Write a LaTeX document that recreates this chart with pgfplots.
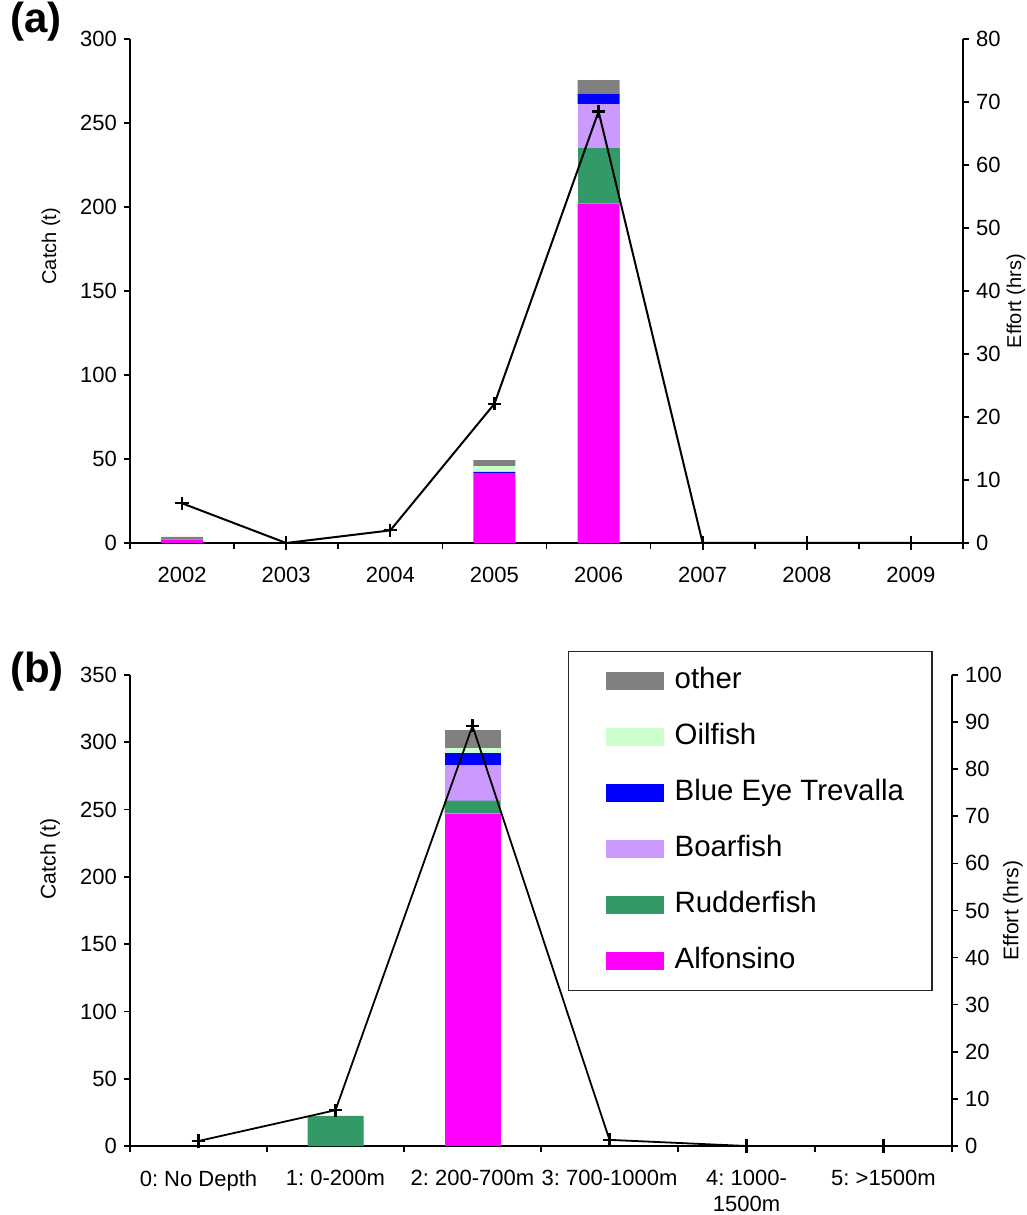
\documentclass[border=0pt]{standalone}
\usepackage{fontspec}
\setmainfont{Liberation Sans}
\usepackage{pgfplots}
\pgfplotsset{compat=1.18}
\frenchspacing
\definecolor{alf}{HTML}{FF00FF}
\definecolor{rud}{HTML}{339966}
\definecolor{boar}{HTML}{CC99FF}
\definecolor{bet}{HTML}{0000FF}
\definecolor{oil}{HTML}{CCFFCC}
\definecolor{oth}{HTML}{808080}
\pgfplotsset{
  base/.style={scale only axis,
    /pgf/number format/assume math mode=true,
    tick label style={font=\fontsize{11}{13}\selectfont\frenchspacing, black},
    axis line style={line width=0.8pt, black},
    every tick/.style={line width=0.8pt, black},
    tick align=outside, major tick length=3pt,
    x tick label as interval},
  barleg/.style={legend image code/.code={\path (0pt,0pt); \fill[##1] (4.5pt,-4.5pt) rectangle (33.5pt,4.5pt);}},
  effline/.style={black, line width=1pt, mark=+, mark size=3.3pt, mark options={line width=1.1pt}},
}
\begin{document}
\begin{tikzpicture}
\useasboundingbox (0,0) rectangle (513.5pt,607.5pt);
% ---------------- panel (a) ----------------
\begin{axis}[base, at={(65pt,336pt)}, anchor=south west, width=416.5pt, height=252pt,
  label style={font=\fontsize{10}{12}\selectfont},
  axis y line*=left, axis x line*=bottom,
  ymin=0, ymax=300, ytick={0,50,...,300},
  xmin=-0.5, xmax=7.5, xtick={-0.5,0.5,...,7.5},
  xticklabels={2002,2003,2004,2005,2006,2007,2008,2009},
  xticklabel style={yshift=-5.5pt},
  ybar stacked, bar width=21pt,
  ylabel={Catch (t)}, ylabel style={at={(axis description cs:-0.095,0.589)}, anchor=center}]
\addplot[draw=none, fill=alf] coordinates {(0,2.0) (1,0) (2,0) (3,41.3) (4,202.2) (5,0) (6,0) (7,0)};
\addplot[draw=none, fill=rud] coordinates {(0,0) (1,0) (2,0) (3,0) (4,33.0) (5,0) (6,0) (7,0)};
\addplot[draw=none, fill=boar] coordinates {(0,0) (1,0) (2,0) (3,0) (4,26.0) (5,0) (6,0) (7,0)};
\addplot[draw=none, fill=bet] coordinates {(0,0) (1,0) (2,0) (3,1.0) (4,6.0) (5,0) (6,0) (7,0)};
\addplot[draw=none, fill=oil] coordinates {(0,0) (1,0) (2,0) (3,3.5) (4,0) (5,0) (6,0) (7,0)};
\addplot[draw=none, fill=oth] coordinates {(0,1.6) (1,0) (2,0) (3,3.6) (4,8.3) (5,0) (6,0) (7,0)};
\end{axis}
\begin{axis}[base, at={(65pt,336pt)}, anchor=south west, width=416.5pt, height=252pt,
  label style={font=\fontsize{10}{12}\selectfont},
  axis y line*=right, axis x line=none, clip=false,
  ymin=0, ymax=80, ytick={0,10,...,80},
  xmin=-0.5, xmax=7.5,
  ylabel={Effort (hrs)}, ylabel style={at={(axis description cs:1.0635,0.48)}, anchor=center}]
\addplot[effline] coordinates {(0,6.3) (1,0) (2,2.0) (3,22.1) (4,68.5) (5,0) (6,0) (7,0)};
\end{axis}
\node[font=\fontsize{21}{24}\selectfont\bfseries] at (18pt,596.5pt) {(a)};
% ---------------- panel (b) ----------------
\begin{axis}[base, at={(65pt,34.5pt)}, anchor=south west, width=411pt, height=235.5pt,
  label style={font=\fontsize{10.6}{12}\selectfont},
  axis y line*=left, axis x line*=bottom,
  ymin=0, ymax=350, ytick={0,50,...,350},
  xmin=-0.5, xmax=5.5, xtick={-0.5,0.5,...,5.5},
  xticklabels={0: No Depth,1: 0-200m,2: 200-700m,3: 700-1000m,{4: 1000-\\1500m},5: >1500m},
  xticklabel style={align=center, anchor=north, yshift=-5.5pt, font=\fontsize{11}{13}\selectfont\frenchspacing},
  ybar stacked, bar width=28pt,
  ylabel={Catch (t)}, ylabel style={at={(axis description cs:-0.0973,0.61)}, anchor=center},
  reverse legend,
  legend style={at={(axis description cs:0.5328,1.051)}, anchor=north west,
    draw=black!85, line width=0.7pt, fill=white,
    font=\fontsize{14.7}{17}\selectfont,
    inner xsep=14pt, inner ysep=8pt, row sep=14.5pt,
    nodes={inner sep=0pt, text height=10.5pt, text depth=3pt},
    /tikz/every odd column/.append style={column sep=5.5pt}},
  legend cell align=left]
\addplot[draw=none, fill=alf, barleg] coordinates {(0,0) (1,0) (2,247.0) (3,0) (4,0) (5,0)};
\addlegendentry{Alfonsino}
\addplot[draw=none, fill=rud, barleg] coordinates {(0,0) (1,22.3) (2,9.6) (3,0) (4,0) (5,0)};
\addlegendentry{Rudderfish}
\addplot[draw=none, fill=boar, barleg] coordinates {(0,0) (1,0) (2,26.7) (3,0) (4,0) (5,0)};
\addlegendentry{Boarfish}
\addplot[draw=none, fill=bet, barleg] coordinates {(0,0) (1,0) (2,8.7) (3,0) (4,0) (5,0)};
\addlegendentry{Blue Eye Trevalla}
\addplot[draw=none, fill=oil, barleg] coordinates {(0,0) (1,0) (2,3.8) (3,0) (4,0) (5,0)};
\addlegendentry{Oilfish}
\addplot[draw=none, fill=oth, barleg] coordinates {(0,0) (1,0) (2,13.3) (3,0) (4,0) (5,0)};
\addlegendentry{other}
\end{axis}
\begin{axis}[base, at={(65pt,34.5pt)}, anchor=south west, width=411pt, height=235.5pt,
  label style={font=\fontsize{10.6}{12}\selectfont},
  axis y line*=right, axis x line=none, clip=false,
  ymin=0, ymax=100, ytick={0,10,...,100},
  xmin=-0.5, xmax=5.5,
  ylabel={Effort (hrs)}, ylabel style={at={(axis description cs:1.074,0.50)}, anchor=center}]
\addplot[effline, line width=0.9pt] coordinates {(0,1.06) (1,7.6) (2,89.2) (3,1.3) (4,0) (5,0)};
\end{axis}
\node[font=\fontsize{21}{24}\selectfont\bfseries] at (18.5pt,271.5pt) {(b)};
\end{tikzpicture}
\end{document}
